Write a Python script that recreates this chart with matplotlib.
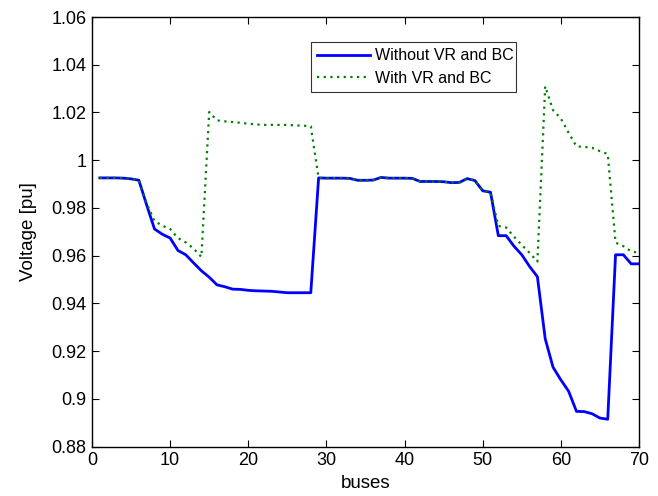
import matplotlib
matplotlib.use("Agg")
import matplotlib.pyplot as plt
import numpy as np

# Bus voltage profile (pu), buses 1..70
buses = np.arange(1, 71)

v_without = [
    0.9926, 0.9926, 0.9926, 0.9925, 0.9922, 0.9916, 0.9812, 0.9712, 0.9690, 0.9674,
    0.9622, 0.9604, 0.9570, 0.9537, 0.9510, 0.9478, 0.9470, 0.9460, 0.9459, 0.9455,
    0.9453, 0.9452, 0.9451, 0.9448, 0.9445, 0.9445, 0.9445, 0.9445, 0.9926, 0.9925,
    0.9925, 0.9925, 0.9924, 0.9916, 0.9916, 0.9917, 0.9928, 0.9925, 0.9925, 0.9925,
    0.9924, 0.9911, 0.9911, 0.9911, 0.9910, 0.9906, 0.9907, 0.9923, 0.9915, 0.9872,
    0.9866, 0.9684, 0.9684, 0.9640, 0.9604, 0.9555, 0.9512, 0.9252, 0.9133, 0.9080,
    0.9032, 0.8948, 0.8947, 0.8938, 0.8920, 0.8915, 0.9604, 0.9604, 0.9566, 0.9566,
]

v_with = [
    0.9926, 0.9926, 0.9926, 0.9925, 0.9922, 0.9916, 0.9820, 0.9745, 0.9726, 0.9712,
    0.9674, 0.9656, 0.9630, 0.9595, 1.0202, 1.0167, 1.0163, 1.0160, 1.0157, 1.0153,
    1.0150, 1.0148, 1.0148, 1.0148, 1.0148, 1.0146, 1.0145, 1.0142, 0.9926, 0.9925,
    0.9925, 0.9925, 0.9924, 0.9916, 0.9916, 0.9917, 0.9928, 0.9925, 0.9925, 0.9925,
    0.9924, 0.9911, 0.9911, 0.9911, 0.9910, 0.9906, 0.9907, 0.9923, 0.9915, 0.9872,
    0.9866, 0.9725, 0.9718, 0.9680, 0.9645, 0.9612, 0.9576, 1.0310, 1.0210, 1.0175,
    1.0115, 1.0058, 1.0056, 1.0052, 1.0038, 1.0026, 0.9655, 0.9640, 0.9618, 0.9612,
]

series_labels = ["Without VR and BC", "With VR and BC"]
x_ticks = [0, 10, 20, 30, 40, 50, 60, 70]
y_ticks = [0.88, 0.90, 0.92, 0.94, 0.96, 0.98, 1.00, 1.02, 1.04, 1.06]
y_tick_labels = ["0.88", "0.9", "0.92", "0.94", "0.96", "0.98", "1", "1.02", "1.04", "1.06"]

plt.rcParams["font.family"] = ["Liberation Sans", "DejaVu Sans"]

fig = plt.figure(figsize=(6.58, 4.96), dpi=100)
ax = fig.add_axes([0.1398, 0.0994, 0.8313, 0.8663])

ax.plot(buses, v_without, color=(0, 0, 1), lw=2.0, label=series_labels[0])
ax.plot(buses, v_with, color=(0, 0.5, 0), lw=1.6, ls=(0, (1, 2)),
        label=series_labels[1])

ax.set_xlim(0, 70)
ax.set_ylim(0.88, 1.06)
ax.set_xticks(x_ticks)
ax.set_yticks(y_ticks)
ax.set_yticklabels(y_tick_labels)
ax.tick_params(direction="in", top=True, right=True, labelsize=13,
               length=5, width=0.8, pad=4)
for s in ax.spines.values():
    s.set_linewidth(1.0)

ax.set_xlabel("buses", fontsize=13.5, labelpad=4)
ax.set_ylabel("Voltage [pu]", fontsize=13.5, labelpad=10)

leg = ax.legend(loc="upper left", bbox_to_anchor=(0.40, 0.942, 0.376, 0.0),
                mode="expand", borderaxespad=0, fontsize=11.5, frameon=True,
                fancybox=False, handlelength=3.3, handletextpad=0.35,
                borderpad=0.4, labelspacing=0.45)
leg.get_frame().set_edgecolor("black")
leg.get_frame().set_linewidth(0.8)

fig.savefig("out.png", dpi=100)
